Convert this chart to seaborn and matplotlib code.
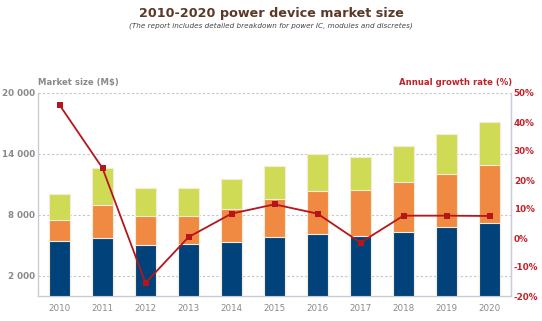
import numpy as np
import pandas as pd
import matplotlib
matplotlib.use("Agg")
import matplotlib.pyplot as plt
import seaborn as sns

years = ["2010", "2011", "2012", "2013", "2014", "2015", "2016", "2017", "2018", "2019", "2020"]
discretes = [5400, 5700, 5050, 5120, 5320, 5780, 6110, 5940, 6340, 6800, 7160]
modules = [2120, 3300, 2800, 2730, 3220, 3810, 4260, 4470, 4860, 5220, 5750]
power_ic = [2530, 3580, 2760, 2760, 2950, 3250, 3590, 3310, 3550, 3970, 4260]
growth = [45.9, 24.1, -15.5, 0.3, 8.4, 11.6, 8.4, -1.6, 7.7, 7.7, 7.6]

left_ticks = [2000, 8000, 14000, 20000]
left_labels = ["2 000", "8 000", "14 000", "20 000"]
right_ticks = [-20, -10, 0, 10, 20, 30, 40, 50]

df = pd.DataFrame({"year": years, "d": discretes, "m": modules, "p": power_ic})
df["dm"] = df["d"] + df["m"]
df["total"] = df["dm"] + df["p"]

sns.set_style("white")
plt.rcParams["font.family"] = ["DejaVu Sans"]

fig = plt.figure(figsize=(5.42, 3.21), dpi=100)
ax = fig.add_axes([38 / 542, 1 - 296 / 321, (511 - 38) / 542, (296 - 93) / 321])

c_blue = "#01427b"
c_orange = "#f08a43"
c_green = "#cfdb55"
edge = "#f3ecd8"
w = 0.49
sns.barplot(data=df, x="year", y="total", color=c_green, saturation=1, width=w,
            edgecolor=edge, linewidth=0.8, ax=ax, zorder=2)
sns.barplot(data=df, x="year", y="dm", color=c_orange, saturation=1, width=w,
            edgecolor=edge, linewidth=0.8, ax=ax, zorder=3)
sns.barplot(data=df, x="year", y="d", color=c_blue, saturation=1, width=w,
            edgecolor=edge, linewidth=0.8, ax=ax, zorder=4)

fs = 6.3
ax.set_xlim(-0.5, 10.5)
ax.set_ylim(0, 20000)
ax.set_yticks(left_ticks)
ax.set_yticklabels(left_labels)
ax.set_xlabel("")
ax.set_ylabel("")
ax.yaxis.grid(True, linestyle=(0, (2, 2)), color="#c4c4c4", linewidth=0.8, zorder=0)
ax.set_axisbelow(True)
ax.tick_params(axis="y", length=0, pad=2, labelsize=fs, labelcolor="#8a8a8a")
ax.tick_params(axis="x", length=0, pad=6, labelsize=fs, labelcolor="#8a8a8a")
for lbl in ax.get_yticklabels():
    lbl.set_fontweight("bold")
spine_c = "#c9ccd8"
ax.spines["top"].set_visible(False)
for s in ["left", "bottom", "right"]:
    ax.spines[s].set_color(spine_c)
    ax.spines[s].set_linewidth(1.0)

ax2 = ax.twinx()
sns.lineplot(x=np.arange(len(years)), y=growth, ax=ax2, color="#b4161c", linewidth=1.3,
             marker="s", markersize=4, markeredgewidth=0, zorder=10)
ax2.set_ylim(-20, 50)
ax2.set_yticks(right_ticks)
ax2.set_yticklabels([f"{t}%" for t in right_ticks])
ax2.tick_params(axis="y", length=0, pad=2, labelsize=fs, labelcolor="#c0222a")
for lbl in ax2.get_yticklabels():
    lbl.set_fontweight("bold")
ax2.set_xlim(-0.5, 10.5)
ax2.spines["top"].set_visible(False)
ax2.spines["left"].set_visible(False)
ax2.spines["bottom"].set_visible(False)
ax2.spines["right"].set_color(spine_c)
ax2.set_ylabel("")

fig.text(38 / 542, 1 - 83 / 321, "Market size (M$)", fontsize=6.1, fontweight="bold",
         color="#8a8a8a", ha="left", va="center")
fig.text(512 / 542, 1 - 83 / 321, "Annual growth rate (%)", fontsize=6.1, fontweight="bold",
         color="#c0222a", ha="right", va="center")
fig.text(0.5, 1 - 13 / 321, "2010-2020 power device market size", fontsize=9.2,
         fontweight="bold", color="#5c3826", ha="center", va="center")
fig.text(0.5, 1 - 26 / 321,
         "(The report includes detailed breakdown for power IC, modules and discretes)",
         fontsize=5.2, style="italic", color="#444444", ha="center", va="center")

fig.savefig("out.png", dpi=100)
